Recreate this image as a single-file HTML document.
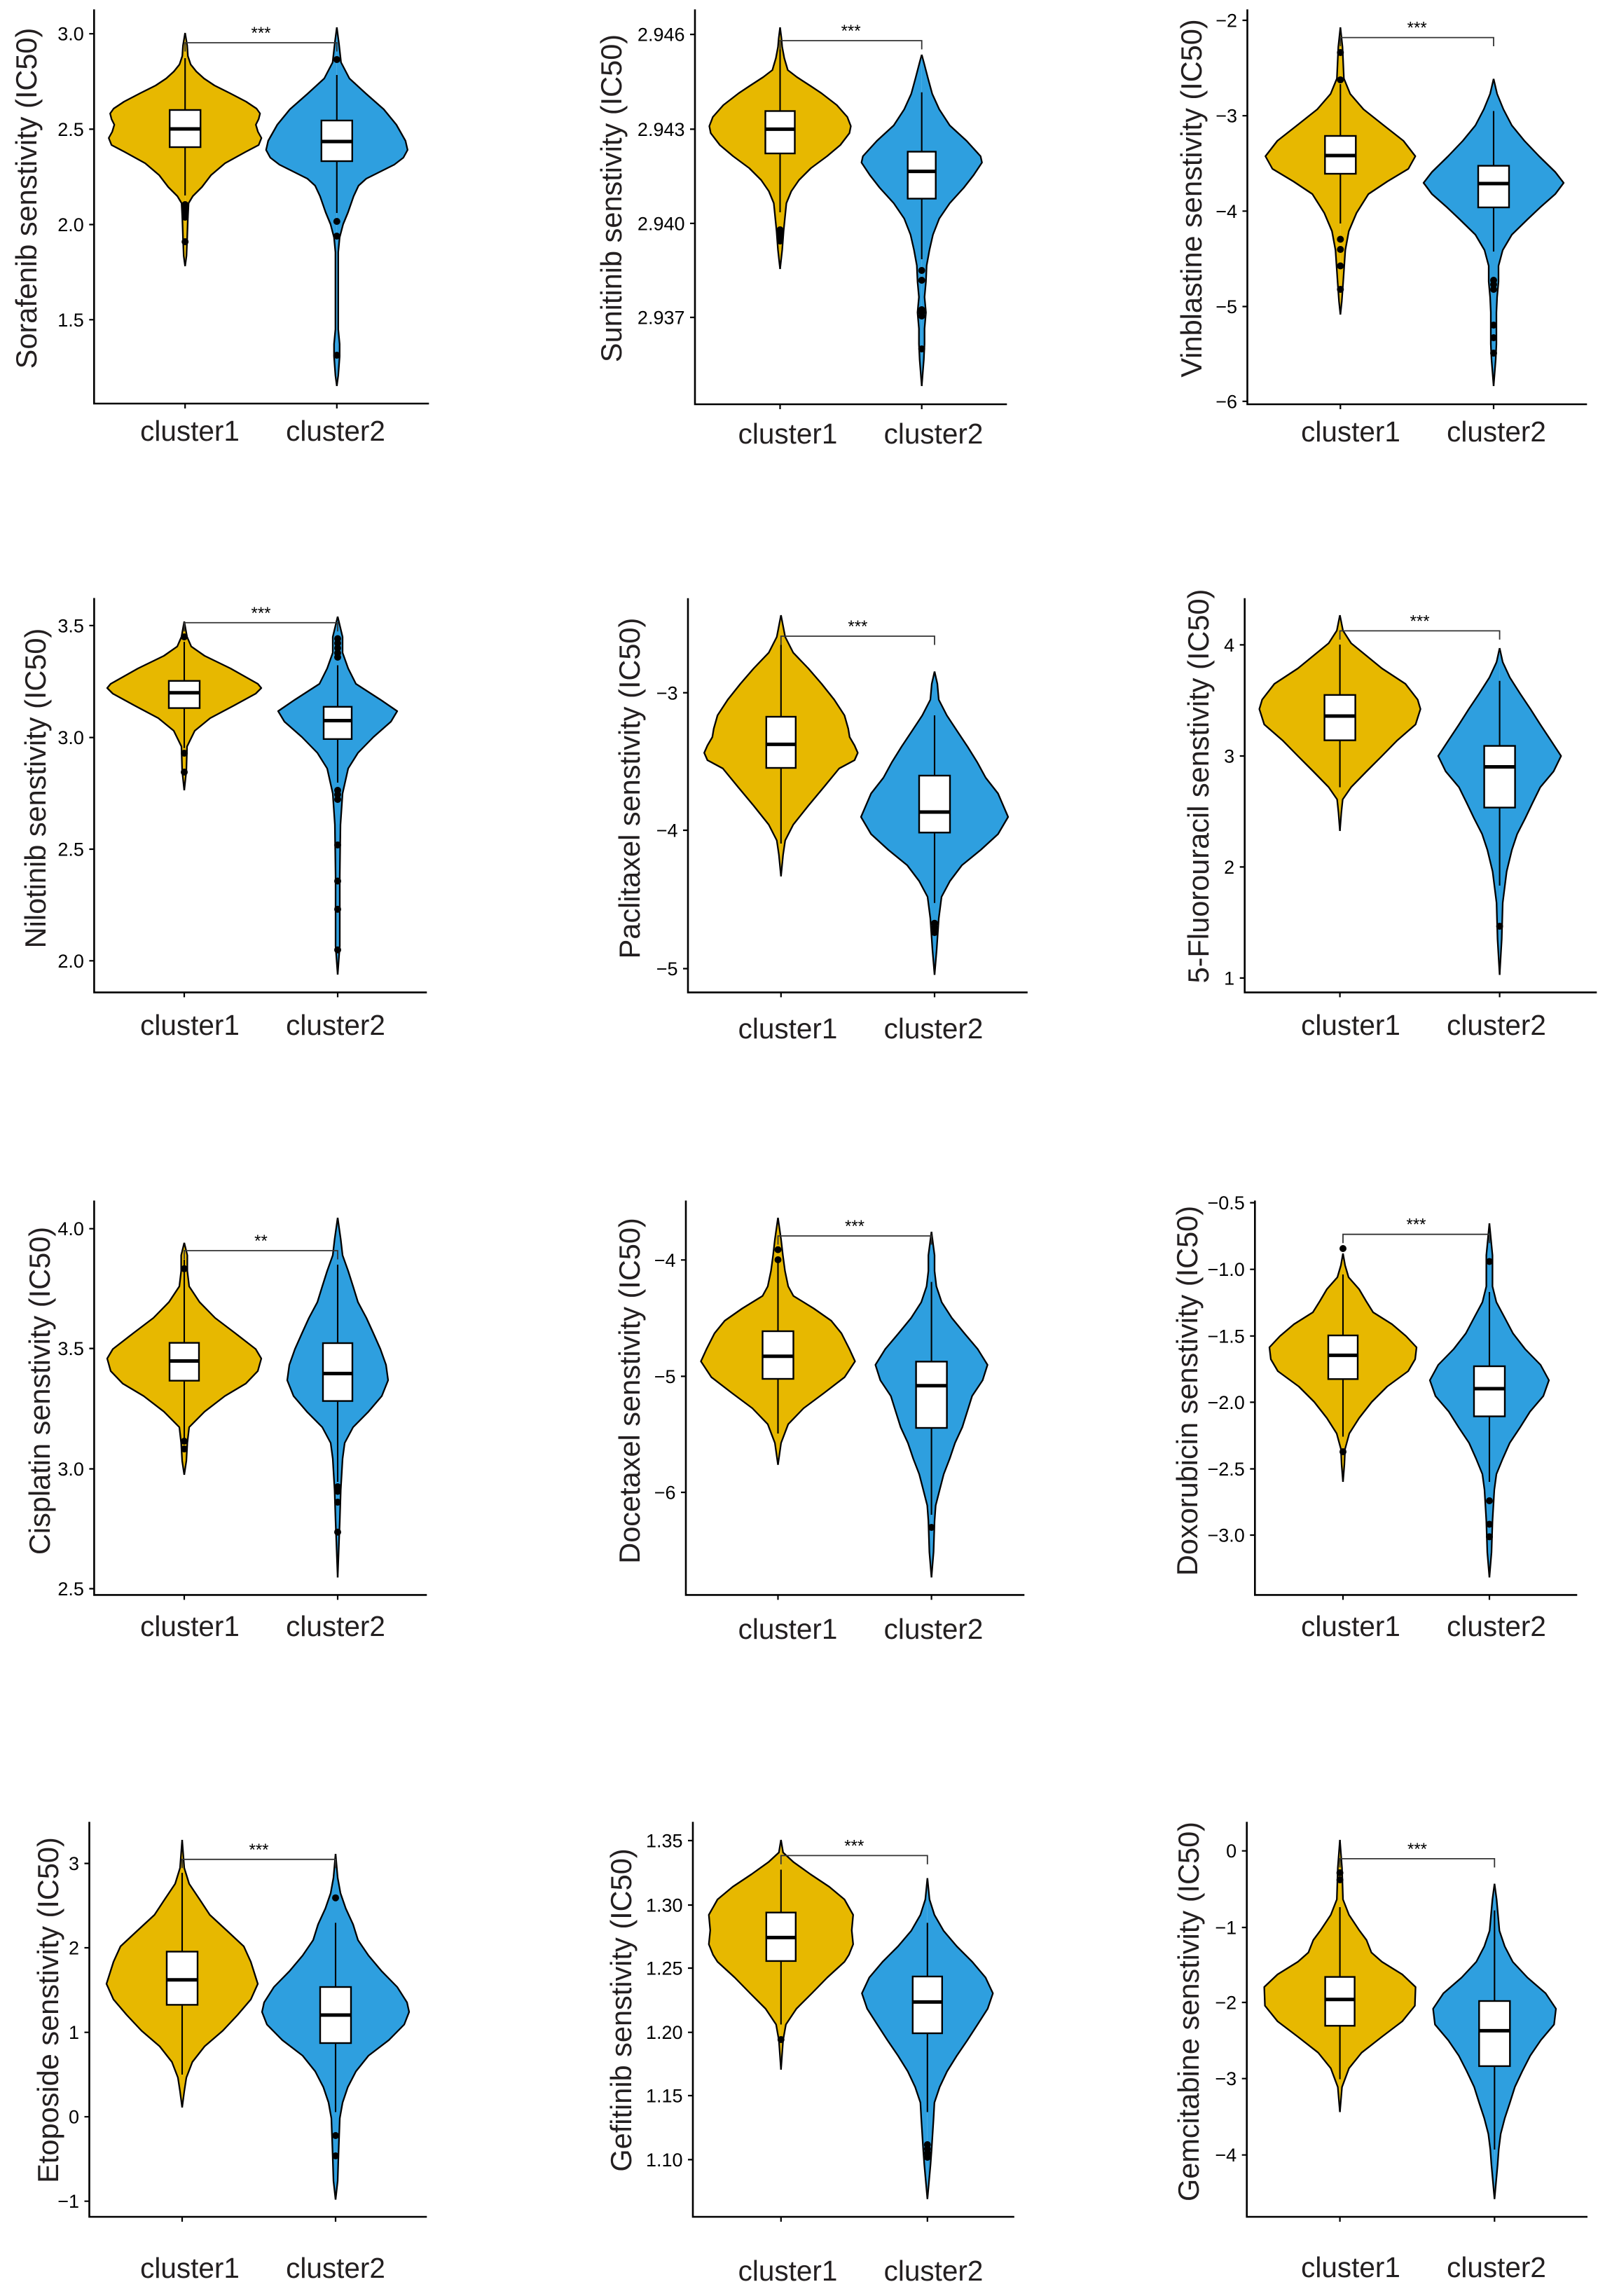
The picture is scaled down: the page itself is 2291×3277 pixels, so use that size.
<!DOCTYPE html>
<html>
<head>
<meta charset="utf-8">
<style>
html,body{margin:0;padding:0;background:#fff;}
svg{display:block;}
text{font-family:"Liberation Sans",Arial,sans-serif;}
.v1{fill:#E7B800;stroke:#000;stroke-width:2.3;stroke-linejoin:round;}
.v2{fill:#2E9FDF;stroke:#000;stroke-width:2.3;stroke-linejoin:round;}
.bx{fill:#fff;stroke:#000;stroke-width:2.4;}
.md{stroke:#000;stroke-width:5;}
.wk{stroke:#000;stroke-width:2.1;}
.ax{stroke:#000;stroke-width:2.6;fill:none;stroke-linecap:square;}
.tk{stroke:#000;stroke-width:2.2;fill:none;}
.br{stroke:#333;stroke-width:1.8;fill:none;}
.tl{font-size:27px;text-anchor:end;fill:#000;}
.ti{font-size:41.5px;text-anchor:middle;fill:#231f20;}
.cl{font-size:40.5px;text-anchor:middle;fill:#231f20;}
.st{font-size:24px;text-anchor:middle;fill:#000;}
.o{fill:#000;}
</style>
</head>
<body>
<svg width="2291" height="3277" viewBox="0 0 2291 3277" xmlns="http://www.w3.org/2000/svg" xmlns:xlink="http://www.w3.org/1999/xlink">
<rect x="0" y="0" width="2291" height="3277" fill="#fff"/>

<!-- ===================== PANEL 1 Sorafenib ===================== -->
<g class="v1" transform="translate(264.2,0)"><path id="p1a" d="M0,47 L3,65 L4,80 L8,92 L16,102 L27,112 L42,122 L64,133 L87,145 L102,155 L107,162 L105,170 L101,178 L104,188 L109,197 L105,207 L86,217 L57,233 L37,250 L24,267 L11,280 L5,290 L4,310 L3,340 L2,365 L0,380"/><use xlink:href="#p1a" href="#p1a" transform="scale(-1,1)"/></g>
<g class="v2" transform="translate(480.8,0)"><path id="p1b" d="M0,39 L3,62 L6,89 L18,112 L42,134 L67,156 L85,178 L98,201 L101,214 L95,225 L82,235 L62,245 L42,255 L31,265 L24,280 L16,303 L9,320 L4,339 L2,360 L2,470 L4,491 L4,509 L2,536 L0,551"/><use xlink:href="#p1b" href="#p1b" transform="scale(-1,1)"/></g>
<line class="wk" x1="264.2" y1="83" x2="264.2" y2="279"/>
<rect class="bx" x="242.2" y="157" width="44" height="53"/>
<line class="md" x1="242.2" y1="184" x2="286.2" y2="184"/>
<line class="wk" x1="480.8" y1="107" x2="480.8" y2="304"/>
<rect class="bx" x="458.8" y="172" width="44" height="58"/>
<line class="md" x1="458.8" y1="202" x2="502.8" y2="202"/>
<g class="o"><circle cx="264.2" cy="292" r="5"/><circle cx="264.2" cy="298" r="5"/><circle cx="264.2" cy="304" r="5"/><circle cx="264.2" cy="310" r="5"/><circle cx="264.2" cy="345" r="5"/>
<circle cx="480.8" cy="85" r="5"/><circle cx="480.8" cy="316" r="5"/><circle cx="480.8" cy="337" r="5"/><circle cx="480.8" cy="507" r="5"/></g>
<path class="br" d="M264.2,73.5 V61 H480.8 V73.5"/>
<text class="st" x="372.5" y="55">***</text>
<path class="ax" d="M134.3,14.7 V576 H611"/>
<path class="tk" d="M127.3,48.2h7 M127.3,184.4h7 M127.3,320.5h7 M127.3,456.3h7 M264.2,576v7 M480.8,576v7"/>
<text class="tl" x="119.8" y="57.7">3.0</text>
<text class="tl" x="119.8" y="193.9">2.5</text>
<text class="tl" x="119.8" y="330">2.0</text>
<text class="tl" x="119.8" y="465.8">1.5</text>
<text class="ti" transform="translate(52,283) rotate(-90)">Sorafenib senstivity (IC50)</text>
<text class="cl" x="271" y="629">cluster1</text>
<text class="cl" x="479" y="629">cluster2</text>

<!-- ===================== PANEL 2 Sunitinib ===================== -->
<g class="v1" transform="translate(1113.5,0)"><path id="p2a" d="M0,39 L2,55 L3,67 L6,83 L11,100 L24,110 L44,123 L59,133 L81,150 L96,167 L101,180 L99,190 L86,207 L67,223 L44,240 L27,257 L16,273 L9,290 L7,310 L5,330 L3,357 L0,384"/><use xlink:href="#p2a" href="#p2a" transform="scale(-1,1)"/></g>
<g class="v2" transform="translate(1315.7,0)"><path id="p2b" d="M0,78 L3,89 L9,112 L15,134 L25,156 L40,179 L64,201 L84,223 L86,232 L74,250 L60,268 L40,290 L25,312 L16,335 L11,357 L7,379 L6,402 L4,424 L6,446 L4,469 L4,491 L3,513 L0,551"/><use xlink:href="#p2b" href="#p2b" transform="scale(-1,1)"/></g>
<line class="wk" x1="1113.5" y1="62" x2="1113.5" y2="303"/>
<rect class="bx" x="1092.5" y="158.5" width="42" height="60.5"/>
<line class="md" x1="1092.5" y1="184.4" x2="1134.5" y2="184.4"/>
<line class="wk" x1="1315.7" y1="131.7" x2="1315.7" y2="370"/>
<rect class="bx" x="1295.7" y="216.5" width="40" height="67"/>
<line class="md" x1="1295.7" y1="244.6" x2="1335.7" y2="244.6"/>
<g class="o"><circle cx="1113.5" cy="328" r="5"/><circle cx="1113.5" cy="334" r="5"/><circle cx="1113.5" cy="339" r="5"/><circle cx="1113.5" cy="344" r="5"/>
<circle cx="1315.7" cy="386" r="5"/><circle cx="1315.7" cy="400" r="5"/><circle cx="1315.7" cy="442" r="5"/><circle cx="1315.7" cy="446" r="5"/><circle cx="1315.7" cy="451" r="5"/><circle cx="1315.7" cy="498" r="5"/></g>
<path class="br" d="M1113.5,70.5 V58 H1315.7 V70.5"/>
<text class="st" x="1214.6" y="52">***</text>
<path class="ax" d="M992,14.7 V577 H1436"/>
<path class="tk" d="M985,49.1h7 M985,184.4h7 M985,318.8h7 M985,453h7 M1113.5,577v7 M1315.7,577v7"/>
<text class="tl" x="977.5" y="58.6">2.946</text>
<text class="tl" x="977.5" y="193.9">2.943</text>
<text class="tl" x="977.5" y="328.3">2.940</text>
<text class="tl" x="977.5" y="462.5">2.937</text>
<text class="ti" transform="translate(887,283) rotate(-90)">Sunitinib senstivity (IC50)</text>
<text class="cl" x="1124.5" y="633">cluster1</text>
<text class="cl" x="1332.5" y="633">cluster2</text>

<!-- ===================== PANEL 3 Vinblastine ===================== -->
<g class="v1" transform="translate(1913.3,0)"><path id="p3a" d="M0,39 L3,67 L5,112 L14,134 L33,156 L62,179 L90,201 L107,223 L97,241 L67,259 L40,277 L23,304 L12,330 L7,357 L4,402 L2,430 L0,449"/><use xlink:href="#p3a" href="#p3a" transform="scale(-1,1)"/></g>
<g class="v2" transform="translate(2132,0)"><path id="p3b" d="M0,112.5 L5,134 L14,156 L26,179 L44,201 L65,223 L88,245.5 L100,261 L88,277 L68,294.6 L49,312.5 L26,335 L13,357 L7,379.5 L7,402 L5,424 L4,446 L4,491 L3,513 L0,551"/><use xlink:href="#p3b" href="#p3b" transform="scale(-1,1)"/></g>
<line class="wk" x1="1913.3" y1="120" x2="1913.3" y2="319"/>
<rect class="bx" x="1891.3" y="194" width="44" height="54"/>
<line class="md" x1="1891.3" y1="222" x2="1935.3" y2="222"/>
<line class="wk" x1="2132" y1="158.5" x2="2132" y2="359"/>
<rect class="bx" x="2110" y="236.6" width="44" height="59.4"/>
<line class="md" x1="2110" y1="262" x2="2154" y2="262"/>
<g class="o"><circle cx="1913.3" cy="75" r="5"/><circle cx="1913.3" cy="114" r="5"/><circle cx="1913.3" cy="341.5" r="5"/><circle cx="1913.3" cy="356" r="5"/><circle cx="1913.3" cy="379.5" r="5"/><circle cx="1913.3" cy="413" r="5"/>
<circle cx="2132" cy="400" r="5"/><circle cx="2132" cy="406" r="5"/><circle cx="2132" cy="413" r="5"/><circle cx="2132" cy="464" r="5"/><circle cx="2132" cy="482" r="5"/><circle cx="2132" cy="504" r="5"/></g>
<path class="br" d="M1913.3,66 V53.6 H2132 V66"/>
<text class="st" x="2022.7" y="47.6">***</text>
<path class="ax" d="M1780.5,14.7 V577 H2264"/>
<path class="tk" d="M1773.5,29h7 M1773.5,165.2h7 M1773.5,301.3h7 M1773.5,437.5h7 M1773.5,572.8h7 M1913.3,577v7 M2132,577v7"/>
<text class="tl" x="1766" y="38.5">−2</text>
<text class="tl" x="1766" y="174.7">−3</text>
<text class="tl" x="1766" y="310.8">−4</text>
<text class="tl" x="1766" y="447">−5</text>
<text class="tl" x="1766" y="582.3">−6</text>
<text class="ti" transform="translate(1715,283) rotate(-90)">Vinblastine senstivity (IC50)</text>
<text class="cl" x="1928" y="630">cluster1</text>
<text class="cl" x="2136" y="630">cluster2</text>

<!-- ===================== PANEL 4 Nilotinib ===================== -->
<g class="v1" transform="translate(263,0)"><path id="p4a" d="M0,887 L4,909 L10,922.7 L29,936 L66,954 L105,976 L110,982 L102,990 L70,1007.5 L37,1025 L15,1043 L4,1065.5 L3,1100 L0,1128"/><use xlink:href="#p4a" href="#p4a" transform="scale(-1,1)"/></g>
<g class="v2" transform="translate(482,0)"><path id="p4b" d="M0,880 L7,909 L7,931.6 L15,954 L26,976 L61,998.6 L85,1015 L76,1030 L51,1052 L29,1074.5 L15,1096.8 L7,1132.5 L4,1177 L3,1250 L3,1350 L0,1391"/><use xlink:href="#p4b" href="#p4b" transform="scale(-1,1)"/></g>
<line class="wk" x1="263" y1="916" x2="263" y2="1067.8"/>
<rect class="bx" x="241" y="971.8" width="44" height="38.8"/>
<line class="md" x1="241" y1="988.8" x2="285" y2="988.8"/>
<line class="wk" x1="482" y1="949.5" x2="482" y2="1117"/>
<rect class="bx" x="462" y="1008.8" width="40" height="46"/>
<line class="md" x1="462" y1="1028.5" x2="502" y2="1028.5"/>
<g class="o"><circle cx="263" cy="909" r="5"/><circle cx="263" cy="1075" r="5"/><circle cx="263" cy="1102" r="5"/>
<circle cx="482" cy="911.5" r="5"/><circle cx="482" cy="918" r="5"/><circle cx="482" cy="925" r="5"/><circle cx="482" cy="932" r="5"/><circle cx="482" cy="938" r="5"/><circle cx="482" cy="1128" r="5"/><circle cx="482" cy="1134" r="5"/><circle cx="482" cy="1141" r="5"/><circle cx="482" cy="1206" r="5"/><circle cx="482" cy="1257.5" r="5"/><circle cx="482" cy="1297.7" r="5"/><circle cx="482" cy="1355.7" r="5"/></g>
<path class="br" d="M263,901.25 V888.75 H482 V901.25"/>
<text class="st" x="372.5" y="882.75">***</text>
<path class="ax" d="M134.4,854.8 V1416.4 H608"/>
<path class="tk" d="M127.4,892.8h7 M127.4,1052.6h7 M127.4,1212h7 M127.4,1371.3h7 M263,1416.4v7 M482,1416.4v7"/>
<text class="tl" x="119.9" y="902.3">3.5</text>
<text class="tl" x="119.9" y="1062.1">3.0</text>
<text class="tl" x="119.9" y="1221.5">2.5</text>
<text class="tl" x="119.9" y="1380.8">2.0</text>
<text class="ti" transform="translate(65,1125) rotate(-90)">Nilotinib senstivity (IC50)</text>
<text class="cl" x="271" y="1477">cluster1</text>
<text class="cl" x="479" y="1477">cluster2</text>

<!-- ===================== PANEL 5 Paclitaxel ===================== -->
<g class="v1" transform="translate(1114.8,0)"><path id="p5a" d="M0,878 L6,909 L17.5,931.6 L39,954 L58,976 L76,998.6 L90.6,1021 L96,1040 L98,1052 L105,1064 L109.6,1074.5 L105,1085 L83,1096.8 L61,1123.6 L39,1150 L17.5,1177 L6,1199.5 L3,1220 L0,1250.8"/><use xlink:href="#p5a" href="#p5a" transform="scale(-1,1)"/></g>
<g class="v2" transform="translate(1334,0)"><path id="p5b" d="M0,958.4 L4,976 L6,998.6 L17.5,1021 L32,1043 L47,1065.5 L61,1088 L73,1110 L90.6,1132.5 L105,1166 L90.6,1190.5 L66,1213 L39,1235 L22,1257.5 L10,1280 L6,1311 L3,1355.7 L0,1391.4"/><use xlink:href="#p5b" href="#p5b" transform="scale(-1,1)"/></g>
<line class="wk" x1="1114.8" y1="920.4" x2="1114.8" y2="1204"/>
<rect class="bx" x="1093.8" y="1023" width="42" height="73"/>
<line class="md" x1="1093.8" y1="1062.4" x2="1135.8" y2="1062.4"/>
<line class="wk" x1="1334" y1="1021" x2="1334" y2="1288.75"/>
<rect class="bx" x="1312" y="1107" width="44" height="81.3"/>
<line class="md" x1="1312" y1="1159" x2="1356" y2="1159"/>
<g class="o"><circle cx="1334" cy="1317.7" r="5"/><circle cx="1334" cy="1324" r="5"/><circle cx="1334" cy="1331" r="5"/></g>
<path class="br" d="M1114.8,920.5 V908 H1334 V920.5"/>
<text class="st" x="1224.4" y="902">***</text>
<path class="ax" d="M982,855 V1416.4 H1465.5"/>
<path class="tk" d="M975,988.75h7 M975,1185h7 M975,1382.5h7 M1114.8,1416.4v7 M1334,1416.4v7"/>
<text class="tl" x="967.5" y="998.25">−3</text>
<text class="tl" x="967.5" y="1194.5">−4</text>
<text class="tl" x="967.5" y="1392">−5</text>
<text class="ti" transform="translate(913,1125) rotate(-90)">Paclitaxel senstivity (IC50)</text>
<text class="cl" x="1124.5" y="1482">cluster1</text>
<text class="cl" x="1332.5" y="1482">cluster2</text>

<!-- ===================== PANEL 6 5-Fluorouracil ===================== -->
<g class="v1" transform="translate(1912.6,0)"><path id="p6a" d="M0,878 L4.4,900 L16,918 L38,936 L60,954 L93.5,976 L111,998.6 L115,1012 L108,1034 L82,1056.6 L60,1079 L38,1101 L16,1123.6 L4,1141 L2,1160 L0,1186"/><use xlink:href="#p6a" href="#p6a" transform="scale(-1,1)"/></g>
<g class="v2" transform="translate(2140.6,0)"><path id="p6b" d="M0,925 L4.4,945 L14.6,967 L29,989.6 L44,1012 L58,1034 L73,1056.6 L87.7,1079 L77,1101 L58,1123.6 L47,1146 L36.5,1168 L25,1190.5 L17.5,1213 L10,1244 L4.4,1288.75 L3,1340 L0,1391.4"/><use xlink:href="#p6b" href="#p6b" transform="scale(-1,1)"/></g>
<line class="wk" x1="1912.6" y1="920" x2="1912.6" y2="1123.6"/>
<rect class="bx" x="1890.6" y="991.9" width="44" height="64.7"/>
<line class="md" x1="1890.6" y1="1022" x2="1934.6" y2="1022"/>
<line class="wk" x1="2140.6" y1="971.8" x2="2140.6" y2="1264"/>
<rect class="bx" x="2118.6" y="1064.6" width="44" height="88"/>
<line class="md" x1="2118.6" y1="1094.5" x2="2162.6" y2="1094.5"/>
<g class="o"><circle cx="2140.6" cy="1322" r="5"/></g>
<path class="br" d="M1912.6,912.9 V900.4 H2140.6 V912.9"/>
<text class="st" x="2026.6" y="894.4">***</text>
<path class="ax" d="M1776.7,855 V1416.4 H2278"/>
<path class="tk" d="M1769.7,920.4h7 M1769.7,1079h7 M1769.7,1237.4h7 M1769.7,1395.9h7 M1912.6,1416.4v7 M2140.6,1416.4v7"/>
<text class="tl" x="1762.2" y="929.9">4</text>
<text class="tl" x="1762.2" y="1088.5">3</text>
<text class="tl" x="1762.2" y="1246.9">2</text>
<text class="tl" x="1762.2" y="1405.4">1</text>
<text class="ti" transform="translate(1725,1122) rotate(-90)">5-Fluorouracil senstivity (IC50)</text>
<text class="cl" x="1928" y="1477">cluster1</text>
<text class="cl" x="2136" y="1477">cluster2</text>

<!-- ===================== PANEL 7 Cisplatin ===================== -->
<g class="v1" transform="translate(263,0)"><path id="p7a" d="M0,1773.75 L4.4,1791.6 L4.4,1814 L7,1836 L22,1858.6 L44,1881 L73,1903 L102,1925.5 L110,1939 L105,1956.8 L88,1974.6 L58,1992.5 L29,2014.8 L7,2037 L4.4,2059.5 L3,2085 L0,2105"/><use xlink:href="#p7a" href="#p7a" transform="scale(-1,1)"/></g>
<g class="v2" transform="translate(482,0)"><path id="p7b" d="M0,1738 L4.4,1769 L7,1791.6 L15,1814 L22,1836 L29,1858.6 L41,1881 L51,1903 L61,1925.5 L69,1948 L72,1970 L63,1992.5 L44,2014.8 L22,2037 L10,2059.5 L7,2082 L4.4,2126.4 L3,2171 L0,2251.4"/><use xlink:href="#p7b" href="#p7b" transform="scale(-1,1)"/></g>
<line class="wk" x1="263" y1="1798" x2="263" y2="2054"/>
<rect class="bx" x="242" y="1916.6" width="42" height="54"/>
<line class="md" x1="242" y1="1942.5" x2="284" y2="1942.5"/>
<line class="wk" x1="482" y1="1805" x2="482" y2="2115"/>
<rect class="bx" x="461" y="1917" width="42" height="82.6"/>
<line class="md" x1="461" y1="1960.4" x2="503" y2="1960.4"/>
<g class="o"><circle cx="263" cy="1810.8" r="5"/><circle cx="263" cy="2057" r="5"/><circle cx="263" cy="2068" r="5"/>
<circle cx="482" cy="2122" r="5"/><circle cx="482" cy="2128.6" r="5"/><circle cx="482" cy="2144" r="5"/><circle cx="482" cy="2186.7" r="5"/></g>
<path class="br" d="M263,1797.5 V1785 H482 V1797.5"/>
<text class="st" x="372.5" y="1779">**</text>
<path class="ax" d="M134.4,1714.8 V2276.4 H608"/>
<path class="tk" d="M127.4,1753.7h7 M127.4,1924.6h7 M127.4,2096.5h7 M127.4,2267.5h7 M263,2276.4v7 M482,2276.4v7"/>
<text class="tl" x="119.9" y="1763.2">4.0</text>
<text class="tl" x="119.9" y="1934.1">3.5</text>
<text class="tl" x="119.9" y="2106">3.0</text>
<text class="tl" x="119.9" y="2277">2.5</text>
<text class="ti" transform="translate(71,1985) rotate(-90)">Cisplatin senstivity (IC50)</text>
<text class="cl" x="271" y="2335">cluster1</text>
<text class="cl" x="479" y="2335">cluster2</text>

<!-- ===================== PANEL 8 Docetaxel ===================== -->
<g class="v1" transform="translate(1110.5,0)"><path id="p8a" d="M0,1738 L4.4,1769 L7,1791.6 L10,1814 L14.6,1836 L22,1849.6 L51,1867.5 L76,1885 L90.6,1903 L102,1925.5 L110,1943 L95,1965.7 L66,1988 L36.5,2010 L14.6,2032.7 L4.4,2059.5 L0,2090.7"/><use xlink:href="#p8a" href="#p8a" transform="scale(-1,1)"/></g>
<g class="v2" transform="translate(1329.6,0)"><path id="p8b" d="M0,1758 L4.4,1791.6 L4.4,1814 L7,1836 L14.6,1858.6 L29,1881 L47,1903 L66,1925.5 L80,1948 L73,1970 L58,1992.5 L51,2014.8 L44,2037 L33.6,2059.5 L26,2082 L17.5,2104 L11.7,2126.4 L6,2148.75 L4.4,2171 L3,2215 L0,2251.4"/><use xlink:href="#p8b" href="#p8b" transform="scale(-1,1)"/></g>
<line class="wk" x1="1110.5" y1="1800.5" x2="1110.5" y2="2046"/>
<rect class="bx" x="1088.5" y="1900" width="44" height="68"/>
<line class="md" x1="1088.5" y1="1935.8" x2="1132.5" y2="1935.8"/>
<line class="wk" x1="1329.6" y1="1829.6" x2="1329.6" y2="2162"/>
<rect class="bx" x="1307.6" y="1943.4" width="44" height="94.6"/>
<line class="md" x1="1307.6" y1="1977.8" x2="1351.6" y2="1977.8"/>
<g class="o"><circle cx="1110.5" cy="1783.6" r="5"/><circle cx="1110.5" cy="1798" r="5"/><circle cx="1329.6" cy="2180" r="5"/></g>
<path class="br" d="M1110.5,1776.5 V1764 H1329.6 V1776.5"/>
<text class="st" x="1220" y="1758">***</text>
<path class="ax" d="M979,1714.8 V2276.4 H1461"/>
<path class="tk" d="M972,1798.3h7 M972,1964.4h7 M972,2130h7 M1110.5,2276.4v7 M1329.6,2276.4v7"/>
<text class="tl" x="964.5" y="1807.8">−4</text>
<text class="tl" x="964.5" y="1973.9">−5</text>
<text class="tl" x="964.5" y="2139.5">−6</text>
<text class="ti" transform="translate(913,1985) rotate(-90)">Docetaxel senstivity (IC50)</text>
<text class="cl" x="1124.5" y="2339">cluster1</text>
<text class="cl" x="1332.5" y="2339">cluster2</text>

<!-- ===================== PANEL 9 Doxorubicin ===================== -->
<g class="v1" transform="translate(1917,0)"><path id="p9a" d="M0,1789 L3,1806 L8,1823 L23,1840 L33,1857 L43,1873 L70,1890 L90,1907 L105,1923 L103,1940 L93,1957 L63,1979 L41,2001 L23,2024 L9,2046 L3,2068 L2,2090 L0,2115"/><use xlink:href="#p9a" href="#p9a" transform="scale(-1,1)"/></g>
<g class="v2" transform="translate(2126,0)"><path id="p9b" d="M0,1746 L4.4,1791.6 L4.4,1836 L10,1858.6 L22,1881 L33.6,1903 L51,1925.5 L73,1948 L85,1970 L77,1992.5 L58,2014.8 L44,2037 L29,2059.5 L19,2082 L10,2104 L7,2126.4 L4.4,2171 L3,2215.7 L0,2251.4"/><use xlink:href="#p9b" href="#p9b" transform="scale(-1,1)"/></g>
<line class="wk" x1="1917" y1="1819" x2="1917" y2="2050.5"/>
<rect class="bx" x="1896" y="1906" width="42" height="62.3"/>
<line class="md" x1="1896" y1="1934.4" x2="1938" y2="1934.4"/>
<line class="wk" x1="2126" y1="1844" x2="2126" y2="2115"/>
<rect class="bx" x="2104" y="1950" width="44" height="71.5"/>
<line class="md" x1="2104" y1="1982" x2="2148" y2="1982"/>
<g class="o"><circle cx="1917" cy="1782" r="5"/><circle cx="1917" cy="2072" r="5"/>
<circle cx="2126" cy="1800.5" r="5"/><circle cx="2126" cy="2142" r="5"/><circle cx="2126" cy="2175.5" r="5"/><circle cx="2126" cy="2193.4" r="5"/></g>
<path class="br" d="M1917,1774.2 V1761.7 H2126 V1774.2"/>
<text class="st" x="2021.5" y="1755.7">***</text>
<path class="ax" d="M1791.3,1714.8 V2276.4 H2250"/>
<path class="tk" d="M1784.3,1716.6h7 M1784.3,1811.7h7 M1784.3,1906.8h7 M1784.3,2001.4h7 M1784.3,2096.5h7 M1784.3,2191h7 M1917,2276.4v7 M2126,2276.4v7"/>
<text class="tl" x="1776.8" y="1726.1">−0.5</text>
<text class="tl" x="1776.8" y="1821.2">−1.0</text>
<text class="tl" x="1776.8" y="1916.3">−1.5</text>
<text class="tl" x="1776.8" y="2010.9">−2.0</text>
<text class="tl" x="1776.8" y="2106">−2.5</text>
<text class="tl" x="1776.8" y="2200.5">−3.0</text>
<text class="ti" transform="translate(1709,1985) rotate(-90)">Doxorubicin senstivity (IC50)</text>
<text class="cl" x="1928" y="2335">cluster1</text>
<text class="cl" x="2136" y="2335">cluster2</text>

<!-- ===================== PANEL 10 Etoposide ===================== -->
<g class="v1" transform="translate(260,0)"><path id="p10a" d="M0,2626 L3,2666 L10,2688.6 L25,2711 L39.5,2733 L64,2755.6 L88,2778 L98,2800 L108,2831.5 L98,2853.8 L79,2876 L58,2898.4 L32,2920.75 L14.6,2943 L6,2965.4 L3,2985 L0,3008"/><use xlink:href="#p10a" href="#p10a" transform="scale(-1,1)"/></g>
<g class="v2" transform="translate(479,0)"><path id="p10b" d="M0,2646 L3,2680 L7,2702 L14.6,2724 L25,2746.6 L32,2769 L47,2791 L66,2813.6 L88,2836 L102,2858 L105,2871.6 L98,2889.5 L76,2911.8 L47,2934 L29,2956.5 L17.5,2978.8 L10,3001 L6,3023.4 L4.4,3068 L3,3112.7 L0,3139.5"/><use xlink:href="#p10b" href="#p10b" transform="scale(-1,1)"/></g>
<line class="wk" x1="260" y1="2673" x2="260" y2="2961"/>
<rect class="bx" x="238" y="2785.5" width="44" height="75.9"/>
<line class="md" x1="238" y1="2825.7" x2="282" y2="2825.7"/>
<line class="wk" x1="479" y1="2744.4" x2="479" y2="3014.5"/>
<rect class="bx" x="457" y="2836" width="44" height="80"/>
<line class="md" x1="457" y1="2876" x2="501" y2="2876"/>
<g class="o"><circle cx="479" cy="2708.7" r="5"/><circle cx="479" cy="3048" r="5"/><circle cx="479" cy="3077" r="5"/></g>
<path class="br" d="M260,2666.3 V2653.8 H479 V2666.3"/>
<text class="st" x="369.5" y="2647.8">***</text>
<path class="ax" d="M127.5,2601.6 V3164 H608"/>
<path class="tk" d="M120.5,2659.6h7 M120.5,2780h7 M120.5,2900.7h7 M120.5,3021.2h7 M120.5,3141.7h7 M260,3164v7 M479,3164v7"/>
<text class="tl" x="113" y="2669.1">3</text>
<text class="tl" x="113" y="2789.5">2</text>
<text class="tl" x="113" y="2910.2">1</text>
<text class="tl" x="113" y="3030.7">0</text>
<text class="tl" x="113" y="3151.2">−1</text>
<text class="ti" transform="translate(83,2869) rotate(-90)">Etoposide senstivity (IC50)</text>
<text class="cl" x="271" y="3251">cluster1</text>
<text class="cl" x="479" y="3251">cluster2</text>

<!-- ===================== PANEL 11 Gefitinib ===================== -->
<g class="v1" transform="translate(1114.8,0)"><path id="p11a" d="M0,2626 L3,2644 L17.5,2657.4 L42,2675 L69,2693 L90.6,2711 L103,2733 L101,2755 L103,2775 L97,2790 L90.6,2800 L66,2822.5 L44,2845 L22,2867 L7,2889.5 L3,2912 L0,2954"/><use xlink:href="#p11a" href="#p11a" transform="scale(-1,1)"/></g>
<g class="v2" transform="translate(1323.8,0)"><path id="p11b" d="M0,2680.6 L3,2711 L10,2733 L23,2755.6 L42,2778 L64,2800 L83,2822.5 L93.5,2845 L86,2867 L71.6,2889.5 L57,2912 L42,2934 L28,2956.5 L17.5,2978.8 L10,3001 L8.8,3023.4 L6,3068 L4.4,3090 L0,3138.6"/><use xlink:href="#p11b" href="#p11b" transform="scale(-1,1)"/></g>
<line class="wk" x1="1114.8" y1="2668.5" x2="1114.8" y2="2889.5"/>
<rect class="bx" x="1093.8" y="2729.7" width="42" height="69.2"/>
<line class="md" x1="1093.8" y1="2765.4" x2="1135.8" y2="2765.4"/>
<line class="wk" x1="1323.8" y1="2744.4" x2="1323.8" y2="3014.5"/>
<rect class="bx" x="1302.8" y="2821" width="42" height="81"/>
<line class="md" x1="1302.8" y1="2857.4" x2="1344.8" y2="2857.4"/>
<g class="o"><circle cx="1114.8" cy="2911" r="5"/>
<circle cx="1323.8" cy="3061" r="5"/><circle cx="1323.8" cy="3067" r="5"/><circle cx="1323.8" cy="3073" r="5"/><circle cx="1323.8" cy="3079" r="5"/></g>
<path class="br" d="M1114.8,2660.9 V2648.4 H1323.8 V2660.9"/>
<text class="st" x="1219.3" y="2642.4">***</text>
<path class="ax" d="M989,2601.6 V3164 H1446.5"/>
<path class="tk" d="M982,2627h7 M982,2719h7 M982,2809h7 M982,2900.7h7 M982,2991h7 M982,3082.4h7 M1114.8,3164v7 M1323.8,3164v7"/>
<text class="tl" x="974.5" y="2636.5">1.35</text>
<text class="tl" x="974.5" y="2728.5">1.30</text>
<text class="tl" x="974.5" y="2818.5">1.25</text>
<text class="tl" x="974.5" y="2910.2">1.20</text>
<text class="tl" x="974.5" y="3000.5">1.15</text>
<text class="tl" x="974.5" y="3091.9">1.10</text>
<text class="ti" transform="translate(901,2869) rotate(-90)">Gefitinib senstivity (IC50)</text>
<text class="cl" x="1124.5" y="3255">cluster1</text>
<text class="cl" x="1332.5" y="3255">cluster2</text>

<!-- ===================== PANEL 12 Gemcitabine ===================== -->
<g class="v1" transform="translate(1912.6,0)"><path id="p12a" d="M0,2626 L3,2666 L4.4,2711 L13,2733 L28,2755.6 L38,2769 L45,2786.8 L60,2800 L89,2818 L108,2836 L107,2862.7 L89,2885 L60,2907 L31,2929.7 L13,2952 L3,2978.8 L0,3014.5"/><use xlink:href="#p12a" href="#p12a" transform="scale(-1,1)"/></g>
<g class="v2" transform="translate(2133.3,0)"><path id="p12b" d="M0,2688.6 L3,2711 L7,2755.6 L14.6,2778 L26,2800 L47,2822.5 L73,2845 L87.7,2867 L85,2889.5 L66,2912 L51,2934 L39.5,2956.5 L29,2978.8 L22,3001 L14.6,3023.4 L8.8,3045.75 L6,3068 L4.4,3090 L0,3138.6"/><use xlink:href="#p12b" href="#p12b" transform="scale(-1,1)"/></g>
<line class="wk" x1="1912.6" y1="2722" x2="1912.6" y2="2967.6"/>
<rect class="bx" x="1891.6" y="2821.6" width="42" height="69.7"/>
<line class="md" x1="1891.6" y1="2853.8" x2="1933.6" y2="2853.8"/>
<line class="wk" x1="2133.3" y1="2726.6" x2="2133.3" y2="3068"/>
<rect class="bx" x="2111.3" y="2856" width="44" height="92.9"/>
<line class="md" x1="2111.3" y1="2898.4" x2="2155.3" y2="2898.4"/>
<g class="o"><circle cx="1912.6" cy="2673" r="5"/><circle cx="1912.6" cy="2683" r="5"/></g>
<path class="br" d="M1912.6,2665.4 V2652.9 H2133.3 V2665.4"/>
<text class="st" x="2023" y="2646.9">***</text>
<path class="ax" d="M1779.7,2601.6 V3164 H2264.7"/>
<path class="tk" d="M1772.7,2641.7h7 M1772.7,2751h7 M1772.7,2858h7 M1772.7,2966.7h7 M1772.7,3075.7h7 M1912.6,3164v7 M2133.3,3164v7"/>
<text class="tl" x="1765.2" y="2651.2">0</text>
<text class="tl" x="1765.2" y="2760.5">−1</text>
<text class="tl" x="1765.2" y="2867.5">−2</text>
<text class="tl" x="1765.2" y="2976.2">−3</text>
<text class="tl" x="1765.2" y="3085.2">−4</text>
<text class="ti" transform="translate(1711,2871) rotate(-90)">Gemcitabine senstivity (IC50)</text>
<text class="cl" x="1928" y="3250">cluster1</text>
<text class="cl" x="2136" y="3250">cluster2</text>

</svg>
</body>
</html>
